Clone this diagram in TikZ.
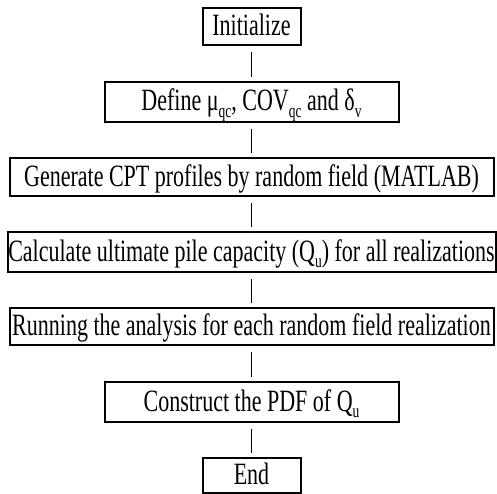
\documentclass[tikz,border=0pt]{standalone}
\usepackage{fontspec}
\newfontfamily\flowfont[FakeStretch=0.71]{Liberation Serif}
% lowered index in the same narrow face
\newcommand{\lowidx}[1]{\raisebox{-0.22em}{\fontsize{19}{20}\selectfont #1}}
\begin{document}
\begin{tikzpicture}[x=1pt,y=-1pt,
  stepbox/.style={draw, line width=2pt, rectangle, inner sep=0pt,
    font=\flowfont\fontsize{31}{34}\selectfont,
    text height=22pt, text depth=4pt},
  link/.style={line width=1.4pt, shorten <=6pt, shorten >=4pt}]
\useasboundingbox (0,0) rectangle (497,494);

\node[stepbox, minimum width=98pt,  minimum height=37pt] (init)  at (251.5,26.5)  {Initialize};
\node[stepbox, minimum width=294pt, minimum height=40pt] (def)   at (251.5,102)   {Define μ\lowidx{qc}, COV\lowidx{qc} and δ\lowidx{v}};
\node[stepbox, minimum width=484pt, minimum height=38pt] (gen)   at (251.5,177)   {Generate CPT profiles by random field (MATLAB)};
\node[stepbox, minimum width=488pt, minimum height=40pt] (calc)  at (251.5,252)   {Calculate ultimate pile capacity (Q\lowidx{u}) for all realizations};
\node[stepbox, minimum width=484pt, minimum height=37pt] (run)   at (251.5,326.5) {Running the analysis for each random field realization};
\node[stepbox, minimum width=294pt, minimum height=40pt] (pdf)   at (251.5,402)   {Construct the PDF of Q\lowidx{u}};
\node[stepbox, minimum width=98pt,  minimum height=35pt] (fin)   at (251.5,475.5) {End};

\draw[link] (init) -- (def);
\draw[link] (def)  -- (gen);
\draw[link] (gen)  -- (calc);
\draw[link] (calc) -- (run);
\draw[link] (run)  -- (pdf);
\draw[link] (pdf)  -- (fin);
\end{tikzpicture}
\end{document}
